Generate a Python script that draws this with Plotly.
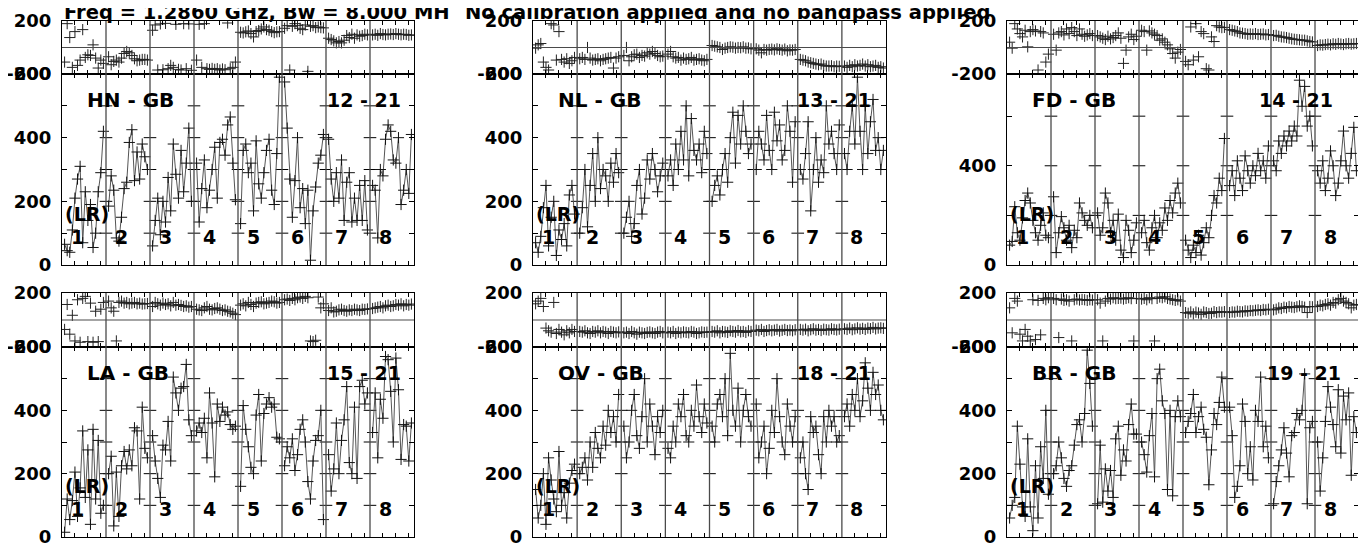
import plotly.graph_objects as go

W, H = 1358, 547      # figure size (page is offset by the 8 px body margin)
OFF = 8               # page pixel -> figure pixel offset
N_IF = 8
N_CH = 16

TITLE_LEFT = "Freq = 1.2860 GHz, Bw = 8.000 MH"
TITLE_RIGHT = "No calibration applied and no bandpass applied"
IF_LABELS = ["1", "2", "3", "4", "5", "6", "7", "8"]
POL_LABEL = "(LR)"

# ---------------- data (8 IFs x 16 channels) ----------------
HN_GB_PHS = [
    [-110, 180, 75, -150, 120, -135, -95, 135, -75, -55, -60, 20, -80, -155, -95, -120],
    [-70, -130, -105, -95, -110, -80, -45, -30, -40, -60, -85, -100, -95, -90, -90, -95],
    [130, 170, -170, 178, -168, 182, -160, -135, -150, 175, -165, -170, 180, -160, 178, -172],
    [-95, 175, -150, 180, -160, -165, -158, -165, -160, -170, -162, -168, 185, -160, -150, -110],
    [115, 110, 118, 125, 105, 80, 120, 128, 140, 155, 135, 130, 120, 112, 118, 120],
    [145, 165, -170, 160, 180, 165, 145, 135, 170, -180, 160, 165, 150, 155, 150, 148],
    [70, 60, 50, 35, 45, 35, 55, 90, 75, 100, 70, 95, 85, 90, 100, 95],
    [95, 100, 92, 105, 98, 95, 100, 102, 98, 105, 100, 96, 100, 98, 92, 95],
]
HN_GB_AMP = [
    [65, 45, 40, 110, 210, 270, 310, 70, 230, 140, 190, 55, 100, 230, 290, 420],
    [185, 280, 235, 85, 75, 150, 240, 260, 385, 425, 265, 355, 270, 380, 340, 300],
    [60, 140, 210, 95, 200, 135, 275, 170, 380, 285, 210, 360, 230, 320, 430, 200],
    [320, 135, 240, 330, 180, 235, 300, 370, 210, 385, 395, 345, 440, 465, 320, 205],
    [130, 360, 380, 290, 320, 170, 390, 255, 210, 290, 360, 395, 235, 190, 350, 590],
    [575, 430, 270, 150, 265, 400, 180, 240, 130, 235, 15, 170, 245, 320, 345, 410],
    [395, 270, 200, 290, 210, 330, 140, 260, 290, 135, 210, 140, 250, 140, 265, 110],
    [250, 235, 85, 300, 280, 395, 440, 420, 330, 320, 400, 190, 235, 300, 225, 410],
]

NL_GB_PHS = [
    [-5, 20, 30, -110, -150, -170, 180, 170, -95, 120, -90, -110, -85, -120, -100, -75],
    [-85, -75, -90, 0, -80, -95, -90, -85, -100, -90, -85, -80, -75, -155, -80, -70],
    [-60, 0, -100, -70, -55, -50, -75, -60, -65, -40, -50, -30, -45, -60, -70, -65],
    [-50, -30, -70, -80, -75, -95, -80, -90, -85, -75, -95, -90, -85, -95, -100, -90],
    [15, 10, 5, 0, -15, -5, 0, 5, 2, -5, 0, -2, 5, -5, -3, -10],
    [-10, -20, -40, -15, -20, -15, -12, -18, -10, -15, -20, -12, -25, -18, -20, -15],
    [-90, -95, -100, -110, -115, -120, -125, -130, -125, -135, -140, -140, -138, -145, -140, -142],
    [-140, -150, -135, -145, -130, -140, -135, -125, -140, -130, -145, -140, -135, -150, -145, -155],
]
NL_GB_AMP = [
    [70, 40, 90, 180, 250, 60, 150, 200, 30, 110, 80, 130, 60, 220, 250, 160],
    [100, 180, 300, 120, 250, 350, 200, 400, 240, 300, 280, 200, 320, 260, 350, 290],
    [100, 150, 200, 90, 130, 250, 300, 160, 210, 330, 270, 350, 300, 230, 280, 320],
    [280, 330, 250, 380, 300, 420, 330, 500, 280, 460, 360, 330, 380, 290, 420, 350],
    [200, 250, 280, 220, 300, 350, 260, 400, 480, 320, 470, 380, 500, 420, 350, 380],
    [300, 420, 380, 330, 470, 360, 300, 480, 390, 440, 330, 360, 500, 420, 260, 450],
    [300, 270, 350, 450, 170, 300, 400, 260, 330, 290, 500, 380, 420, 350, 300, 440],
    [350, 300, 420, 500, 380, 590, 420, 300, 500, 350, 450, 520, 360, 400, 300, 360],
]

FD_GB_PHS = [
    [40, -5, 180, 140, 105, 80, 130, 5, 120, 135, 125, -170, 120, 110, -110, -50],
    [100, -20, 110, 120, 95, 140, 105, 150, 120, 90, 140, 100, 85, 95, 105, 90],
    [90, 80, 70, 60, 85, 65, 75, 90, 110, 70, -120, -20, 80, 100, 60, 85],
    [130, 120, -20, 125, 110, 100, 90, 55, 65, 40, 20, -10, -45, -80, -35, -15],
    [-105, -130, 155, -95, 180, -70, 120, 105, -160, -170, 80, 45, 165, 155, 150, 152],
    [135, 130, 125, 120, 110, 108, 105, 100, 102, 100, 105, 98, 100, 102, 95, 98],
    [90, 92, 85, 80, 78, 75, 70, 65, 62, 60, 58, 55, 55, 50, 45, 42],
    [15, 20, 18, 22, 25, 20, 28, 24, 30, 26, 22, 28, 30, 25, 28, 30],
]
FD_GB_AMP = [
    [80, 95, 235, 130, 100, 190, 260, 290, 250, 180, 130, 100, 160, 210, 120, 110],
    [275, 50, 130, 195, 150, 100, 160, 70, 140, 110, 250, 210, 180, 160, 200, 150],
    [210, 120, 150, 290, 250, 130, 180, 100, 205, 60, 30, 180, 140, 50, 100, 170],
    [130, 180, 90, 60, 150, 200, 110, 170, 140, 230, 180, 260, 210, 290, 330, 250],
    [100, 60, 30, 80, 50, 120, 40, 90, 150, 110, 200, 280, 250, 350, 300, 510],
    [320, 380, 280, 420, 350, 300, 440, 380, 330, 400, 360, 450, 380, 420, 350, 480],
    [420, 380, 500, 450, 520, 480, 540, 500, 560, 520, 745, 640, 720, 560, 600, 480],
    [380, 330, 420, 300, 350, 460, 400, 280, 330, 420, 540, 400, 350, 450, 555, 380],
]

LA_GB_PHS = [
    [-70, 115, -105, 35, -155, 150, -165, 160, 175, -160, 125, -165, 65, -160, 80, 130],
    [140, 90, 65, -155, 130, 140, 125, 130, 120, 125, 130, 120, 125, 118, 120, 122],
    [100, 130, 120, 110, 125, 115, 120, 105, 130, 110, 115, 108, 100, 105, 95, 100],
    [80, 75, 70, 90, 100, 80, 75, 85, 90, 80, 70, 75, 65, 60, 50, 40],
    [110, 120, 105, 130, 115, 100, 125, 130, 135, 120, 125, 130, 140, 135, 125, 130],
    [150, 155, 145, 160, 150, 165, 170, 160, 175, 165, -155, -160, -150, 170, 90, 120],
    [70, 90, 60, 65, 75, 80, 70, 65, 75, 70, 80, 75, 70, 80, 78, 82],
    [85, 90, 95, 100, 90, 105, 110, 100, 105, 115, 110, 120, 105, 115, 110, 118],
]
LA_GB_AMP = [
    [15, 120, 55, 115, 205, 65, 155, 335, 125, 275, 40, 340, 120, 305, 75, 100],
    [200, 255, 35, 205, 65, 225, 270, 215, 275, 225, 345, 335, 120, 410, 280, 250],
    [320, 240, 185, 125, 290, 275, 365, 240, 505, 455, 400, 470, 475, 545, 370, 320],
    [335, 360, 330, 375, 250, 455, 360, 190, 420, 365, 410, 385, 395, 355, 340, 350],
    [160, 415, 340, 285, 220, 200, 385, 450, 240, 390, 420, 440, 410, 420, 315, 310],
    [225, 285, 250, 310, 210, 260, 340, 370, 300, 175, 120, 240, 305, 320, 400, 55],
    [260, 145, 215, 360, 200, 305, 370, 475, 235, 200, 410, 185, 475, 495, 420, 455],
    [330, 455, 250, 435, 375, 570, 560, 460, 300, 565, 465, 245, 355, 350, 240, 360],
]

OV_GB_PHS = [
    [120, 140, 160, 100, -60, -80, -90, 130, -100, -70, -90, -110, -80, -95, -70, -85],
    [-85, -90, -80, -95, -100, -85, -90, -80, -95, -85, -90, -100, -85, -90, -95, -88],
    [-95, -90, -100, -85, -95, -105, -90, -95, -100, -92, -88, -95, -100, -90, -85, -95],
    [-90, -95, -85, -100, -90, -95, -88, -92, -95, -85, -90, -100, -95, -88, -92, -90],
    [-85, -90, -80, -95, -85, -88, -92, -80, -85, -90, -78, -88, -85, -92, -80, -85],
    [-75, -80, -70, -85, -78, -72, -80, -75, -70, -82, -76, -70, -78, -74, -80, -72],
    [-70, -75, -68, -80, -72, -65, -75, -70, -78, -68, -72, -75, -65, -70, -74, -68],
    [-65, -70, -60, -72, -66, -58, -68, -62, -70, -60, -64, -55, -66, -60, -58, -62],
]
OV_GB_AMP = [
    [150, 60, 100, 200, 40, 250, 180, 120, 80, 270, 100, 140, 60, 170, 210, 230],
    [200, 220, 250, 180, 300, 220, 330, 280, 250, 350, 290, 400, 330, 380, 300, 450],
    [350, 250, 300, 400, 450, 320, 280, 380, 500, 300, 420, 350, 260, 380, 330, 400],
    [280, 250, 350, 300, 420, 380, 450, 320, 300, 400, 350, 480, 380, 330, 420, 360],
    [350, 300, 420, 450, 380, 500, 320, 580, 400, 350, 470, 300, 400, 450, 380, 350],
    [420, 250, 300, 350, 200, 280, 400, 330, 500, 380, 300, 260, 420, 350, 300, 380],
    [250, 300, 200, 150, 380, 330, 350, 260, 200, 380, 300, 400, 350, 380, 300, 320],
    [380, 420, 350, 450, 400, 500, 380, 430, 550, 470, 400, 520, 450, 480, 400, 370],
]

BR_GB_PHS = [
    [90, -95, 160, 140, -105, -155, -70, -120, -155, 150, -145, 145, -110, 160, 150, 165],
    [160, 150, -130, 155, 145, 150, 140, -155, 150, 155, 148, 152, 150, 145, 150, 148],
    [150, 125, -155, 140, 160, 155, 165, 158, 160, 162, 155, 160, 165, 158, -155, 160],
    [155, 160, 150, 165, 158, -155, 160, 170, 165, 172, 160, 155, 150, 145, 150, 140],
    [55, 50, 60, 45, 58, 52, 42, 60, 55, 48, 50, 62, 55, 60, 58, 62],
    [55, 60, 58, 65, 62, 60, 68, 65, 70, 68, 72, 75, 70, 78, 75, 80],
    [75, 80, 90, 85, 95, 90, 100, 95, 92, 98, 105, 100, 95, 55, 100, 98],
    [100, 110, 105, 115, 120, 110, 130, 125, 150, 160, 140, 130, 120, 90, 110, 115],
]
BR_GB_AMP = [
    [60, 100, 125, 350, 230, 95, 65, 310, 95, 20, 225, 60, 285, 185, 400, 135],
    [200, 225, 300, 250, 185, 160, 210, 225, 290, 355, 370, 300, 390, 590, 485, 350],
    [105, 290, 110, 215, 145, 210, 125, 310, 350, 195, 275, 240, 355, 420, 325, 325],
    [300, 260, 205, 320, 390, 190, 500, 530, 430, 390, 150, 400, 130, 380, 430, 380],
    [330, 365, 390, 450, 330, 380, 410, 340, 315, 165, 275, 390, 355, 425, 505, 410],
    [410, 320, 125, 160, 225, 420, 365, 200, 285, 180, 400, 365, 505, 285, 350, 250],
    [105, 175, 225, 275, 345, 265, 190, 320, 330, 390, 370, 400, 515, 105, 345, 365],
    [300, 145, 250, 365, 475, 410, 355, 285, 465, 265, 445, 370, 455, 195, 380, 330],
]

BASELINES = ["HN - GB", "NL - GB", "FD - GB", "LA - GB", "OV - GB", "BR - GB"]
CHAN_LABELS = ["12 - 21", "13 - 21", "14 - 21", "15 - 21", "18 - 21", "19 - 21"]
AMP_DATA = [HN_GB_AMP, NL_GB_AMP, FD_GB_AMP, LA_GB_AMP, OV_GB_AMP, BR_GB_AMP]
PHS_DATA = [HN_GB_PHS, NL_GB_PHS, FD_GB_PHS, LA_GB_PHS, OV_GB_PHS, BR_GB_PHS]
AMP_MAX = [600, 600, 770, 600, 600, 600]
AMP_TICK = [100, 100, 200, 100, 100, 100]
AMP_LABEL_STEP = [200, 200, 400, 200, 200, 200]

# ---------------- layout geometry (page pixels) ----------------
COL_X = [(62, 414), (533, 886), (1007, 1359)]
ROW_Y = [(21, 74, 265), (293, 347, 537)]
CHAN_LABEL_X = [325, 795, 1257, 325, 795, 1265]

FONT = "DejaVu Sans"
FS = 19
TICK_FS = 18
FRAME = "black"
SEP = "#4a4a4a"


def fx(px):
    return (px - OFF) / W


def fy(py):
    return 1 - (py - OFF) / H


def chan_x(k, c):
    return k + (c + 1) / (N_CH + 1)


def sfx(n):
    return "" if n == 1 else str(n)


fig = go.Figure()
layout = dict(
    width=W, height=H, margin=dict(l=0, r=0, t=0, b=0, pad=0, autoexpand=False),
    paper_bgcolor="white", plot_bgcolor="white", showlegend=False,
)
shapes = []
annotations = []

xticks = [k + c / (N_CH + 1) for k in range(N_IF) for c in (5, 10, 15)]
tick_font = dict(family=FONT, size=TICK_FS, color="black", weight="bold")

for i in range(6):
    row, col = divmod(i, 3)
    x0, x1 = COL_X[col]
    yt, ym, yb = ROW_Y[row]
    sp, sa = sfx(2 * i + 1), sfx(2 * i + 2)
    amax = AMP_MAX[i]

    xax = dict(domain=[fx(x0), fx(x1)], range=[0, N_IF], showgrid=False, zeroline=False,
               showline=True, linecolor=FRAME, linewidth=1, mirror="ticks",
               ticks="inside", ticklen=4, tickwidth=1, tickcolor=FRAME,
               tickvals=xticks, showticklabels=False, fixedrange=True, automargin=False)
    layout[f"xaxis{sp}"] = dict(xax, anchor=f"y{sp}")
    layout[f"xaxis{sa}"] = dict(xax, anchor=f"y{sa}")

    layout[f"yaxis{sp}"] = dict(
        domain=[fy(ym), fy(yt)], range=[-200, 200], anchor=f"x{sp}",
        showgrid=False, zeroline=False, showline=True, linecolor=FRAME, linewidth=1,
        mirror=True, ticks="", tickvals=[-200, 200], ticktext=["-200", "200"],
        tickfont=tick_font, ticklabelstandoff=6, ticklabeloverflow="allow",
        fixedrange=True, automargin=False)

    atv = list(range(0, amax + 1, AMP_TICK[i]))
    att = [str(v) if v % AMP_LABEL_STEP[i] == 0 else "" for v in atv]
    layout[f"yaxis{sa}"] = dict(
        domain=[fy(yb), fy(ym)], range=[0, amax], anchor=f"x{sa}",
        showgrid=False, zeroline=False, showline=True, linecolor=FRAME, linewidth=1,
        mirror="ticks", ticks="inside", ticklen=5, tickwidth=1, tickcolor=FRAME,
        tickvals=atv, ticktext=att, tickfont=tick_font,
        ticklabelstandoff=6, ticklabeloverflow="allow", fixedrange=True, automargin=False)

    # IF separators
    for k in range(1, N_IF):
        shapes.append(dict(type="line", xref=f"x{sa}", yref="paper", x0=k, x1=k,
                           y0=fy(yb), y1=fy(yt), line=dict(color=SEP, width=1.3), layer="above"))
    # phase zero line
    shapes.append(dict(type="line", xref=f"x{sp} domain", yref=f"y{sp}", x0=0, x1=1,
                       y0=0, y1=0, line=dict(color=SEP, width=1.2), layer="above"))

    # tick crosses on separators
    inner = [v for v in atv if 0 < v < amax]
    sx = [k for k in range(1, N_IF) for _ in inner]
    sy = [v for _ in range(1, N_IF) for v in inner]
    fig.add_trace(go.Scatter(x=sx, y=sy, xaxis=f"x{sa}", yaxis=f"y{sa}", mode="markers",
                             marker=dict(symbol="line-ew", size=9, line=dict(width=1, color=FRAME)),
                             hoverinfo="skip"))

    # amplitude
    ax, ay = [], []
    for k in range(N_IF):
        for c in range(N_CH):
            ax.append(chan_x(k, c))
            ay.append(AMP_DATA[i][k][c])
        ax.append(None)
        ay.append(None)
    fig.add_trace(go.Scatter(x=ax, y=ay, xaxis=f"x{sa}", yaxis=f"y{sa}", mode="lines+markers",
                             line=dict(color="#555555", width=1),
                             marker=dict(symbol="cross-thin", size=8, color="#111111",
                                         line=dict(width=1, color="#111111")),
                             connectgaps=False, name=BASELINES[i]))
    # phase
    px_, py_ = [], []
    for k in range(N_IF):
        for c in range(N_CH):
            px_.append(chan_x(k, c))
            py_.append(PHS_DATA[i][k][c])
    fig.add_trace(go.Scatter(x=px_, y=py_, xaxis=f"x{sp}", yaxis=f"y{sp}", mode="markers",
                             marker=dict(symbol="cross-thin", size=8, color="#222222",
                                         line=dict(width=1, color="#222222")),
                             name=BASELINES[i] + " phase"))

    # text labels
    tf = dict(family=FONT, size=FS + 1, color="black", weight="bold")
    annotations.append(dict(xref="paper", yref="paper", x=fx(x0 + 23), y=fy(ym + 26),
                            xanchor="left", yanchor="middle", text=BASELINES[i],
                            showarrow=False, font=tf))
    annotations.append(dict(xref="paper", yref="paper", x=fx(CHAN_LABEL_X[i]), y=fy(ym + 26),
                            xanchor="left", yanchor="middle", text=CHAN_LABELS[i],
                            showarrow=False, font=dict(tf, size=FS)))
    annotations.append(dict(xref="paper", yref="paper", x=fx(x0 + 1), y=fy(yb - 51),
                            xanchor="left", yanchor="middle", text=POL_LABEL,
                            showarrow=False, font=dict(family=FONT, size=FS, color="black", weight="bold")))
    ifw = (x1 - x0) / N_IF
    for k in range(N_IF):
        annotations.append(dict(xref="paper", yref="paper", x=fx(x0 + k * ifw + 15), y=fy(yb - 28),
                                xanchor="center", yanchor="middle", text=IF_LABELS[k],
                                showarrow=False, font=dict(family=FONT, size=FS, color="black", weight="bold")))

title_font = dict(family=FONT, size=19.5, color="black", weight="bold")
annotations.append(dict(xref="paper", yref="paper", x=fx(62), y=fy(12), xanchor="left",
                        yanchor="middle", text=TITLE_LEFT, showarrow=False, font=title_font))
annotations.append(dict(xref="paper", yref="paper", x=fx(463), y=fy(12), xanchor="left",
                        yanchor="middle", text=TITLE_RIGHT, showarrow=False, font=title_font))

layout["shapes"] = shapes
layout["annotations"] = annotations
fig.update_layout(**layout)
fig.write_html("out.html")
